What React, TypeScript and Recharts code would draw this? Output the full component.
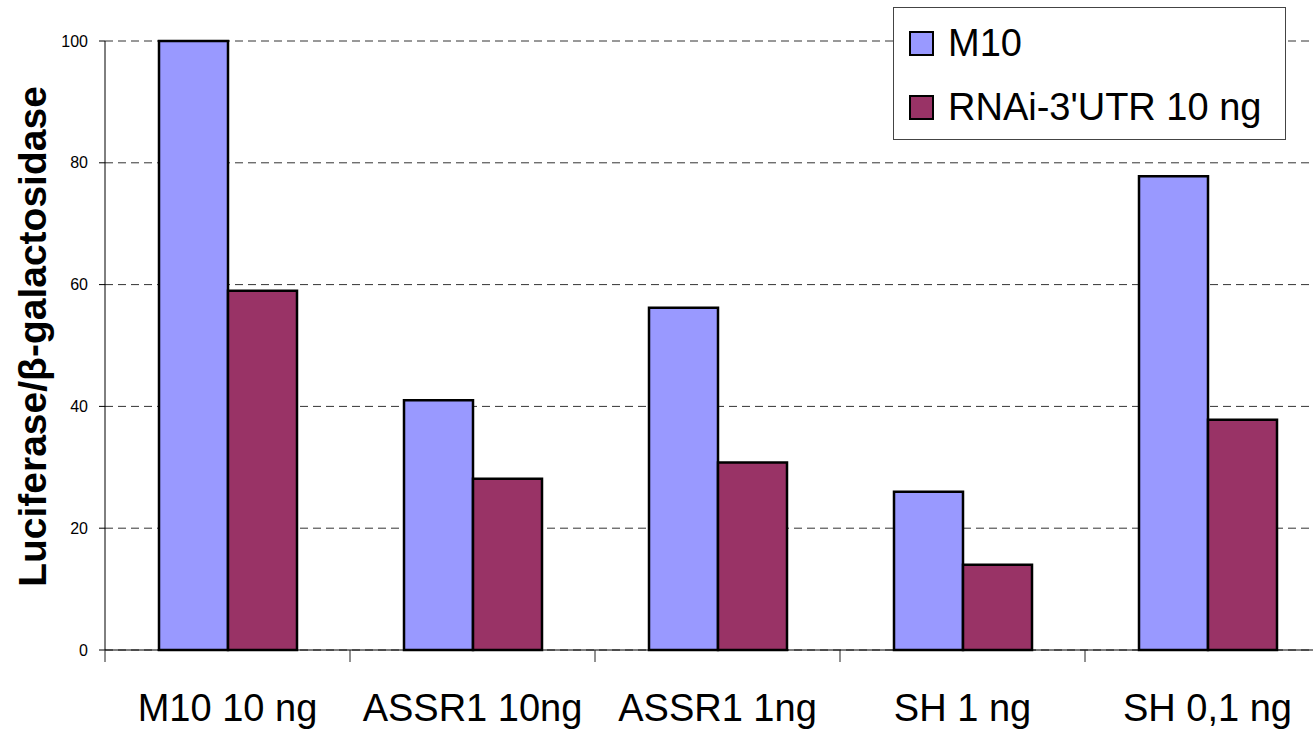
import React from "react";
import { BarChart, Bar, XAxis, YAxis, CartesianGrid, Legend } from "recharts";

const categories = ["M10 10 ng", "ASSR1 10ng", "ASSR1 1ng", "SH 1 ng", "SH 0,1 ng"];
const m10Values = [100, 41, 56.2, 26, 77.8];
const rnaiValues = [59, 28.1, 30.8, 14, 37.8];
const yTicks = [0, 20, 40, 60, 80, 100];
const seriesNames = ["M10", "RNAi-3'UTR 10 ng"];
const seriesColors = ["#9999FF", "#993366"];

const data = categories.map((c, i) => ({ name: c, m10: m10Values[i], rnai: rnaiValues[i] }));

const CHART_W = 1330;
const CHART_H = 732;
const Y_AXIS_W = 105;
const FONT = "'Liberation Sans', Arial, Helvetica, sans-serif";
const HALF_BAND = (CHART_W - Y_AXIS_W) / categories.length / 2;

const XTick = (props: any) => {
  const { x, y, payload, index } = props;
  const last = index === categories.length - 1;
  return (
    <g>
      <line x1={x - HALF_BAND} y1={y} x2={x - HALF_BAND} y2={y + 12} stroke="#222" strokeWidth={1} />
      {last && <line x1={x + HALF_BAND} y1={y} x2={x + HALF_BAND} y2={y + 12} stroke="#222" strokeWidth={1} />}
      <text x={x} y={y + 71} textAnchor="middle" fontSize={38} fontFamily={FONT} fill="#000">
        {payload.value}
      </text>
    </g>
  );
};

const LegendBox = (props: any) => {
  const { payload } = props;
  return (
    <div
      style={{
        width: 391,
        height: 128,
        paddingTop: 3,
        border: "1px solid #444",
        background: "#fff",
        fontFamily: FONT,
      }}
    >
      {(payload || []).map((p: any, i: number) => (
        <div key={i} style={{ height: 64, display: "flex", alignItems: "center", paddingLeft: 15 }}>
          <div
            style={{
              width: 21,
              height: 21,
              background: p.color,
              border: "2.5px solid #000",
              marginRight: 14,
            }}
          />
          <span style={{ fontSize: 38, color: "#000", lineHeight: 1 }}>{p.value}</span>
        </div>
      ))}
    </div>
  );
};

const YLabel = (props: any) => {
  const vb = props.viewBox || {};
  const cx = (vb.x || 0) + 46;
  const cy = (vb.y || 0) + (vb.height || 0) / 2 - 9;
  return (
    <text
      x={cx}
      y={cy}
      transform={`rotate(-90, ${cx}, ${cy})`}
      textAnchor="middle"
      fontSize={39}
      fontWeight="bold"
      fontFamily={FONT}
      fill="#000"
    >
      Luciferase/β-galactosidase
    </text>
  );
};

export default function App() {
  return (
    <div style={{ position: "absolute", left: 0, top: 0, width: 1313, height: 732, overflow: "hidden", background: "#fff" }}>
      <BarChart
        width={CHART_W}
        height={CHART_H}
        data={data}
        margin={{ top: 41, right: 0, bottom: 0, left: 0 }}
        barGap={0}
      >
        <CartesianGrid vertical={false} stroke="#333" strokeDasharray="8 5" />
        <XAxis
          dataKey="name"
          height={82}
          axisLine={{ stroke: "#000", strokeWidth: 1 }}
          tickLine={false}
          tickSize={0}
          tickMargin={0}
          tick={<XTick />}
          interval={0}
        />
        <YAxis
          width={Y_AXIS_W}
          domain={[0, 100]}
          ticks={yTicks}
          axisLine={{ stroke: "#000", strokeWidth: 1 }}
          tickLine={{ stroke: "#000" }}
          tickSize={6}
          tickMargin={11}
          tick={{ fontSize: 16, fill: "#000", fontFamily: FONT }}
          label={<YLabel />}
        />
        <Legend
          content={<LegendBox />}
          wrapperStyle={{ position: "absolute", left: 893, top: 7, width: 393, height: 0, overflow: "visible" }}
        />
        <Bar dataKey="m10" name={seriesNames[0]} fill={seriesColors[0]} stroke="#000" strokeWidth={2.5} barSize={69} isAnimationActive={false} />
        <Bar dataKey="rnai" name={seriesNames[1]} fill={seriesColors[1]} stroke="#000" strokeWidth={2.5} barSize={69} isAnimationActive={false} />
      </BarChart>
    </div>
  );
}
